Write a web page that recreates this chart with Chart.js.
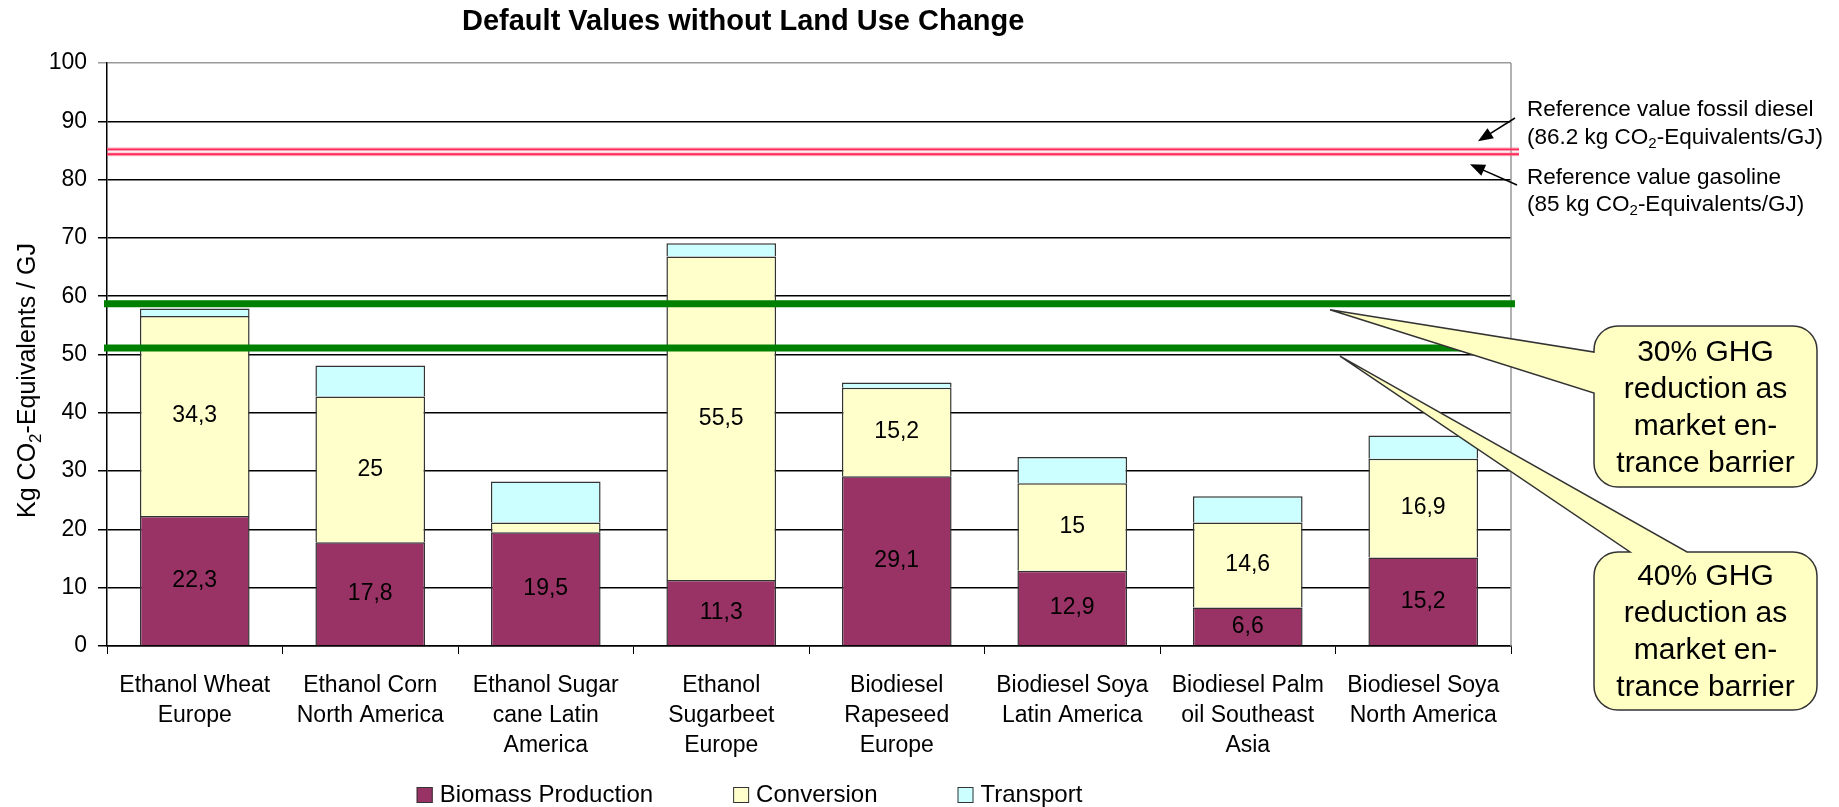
<!DOCTYPE html>
<html>
<head>
<meta charset="utf-8">
<title>Default Values without Land Use Change</title>
<script src="https://cdn.jsdelivr.net/npm/chart.js@4.4.1/dist/chart.umd.min.js"></script>
<style>
  html, body { margin: 0; padding: 0; background: #fff; }
  #wrap { width: 1839px; height: 807px; }
</style>
</head>
<body>
<div id="wrap"><canvas id="chart" width="1839" height="807"></canvas></div>
<script>
// values
const categories = [
  ['Ethanol Wheat', 'Europe'],
  ['Ethanol Corn', 'North America'],
  ['Ethanol Sugar', 'cane Latin', 'America'],
  ['Ethanol', 'Sugarbeet', 'Europe'],
  ['Biodiesel', 'Rapeseed', 'Europe'],
  ['Biodiesel Soya', 'Latin America'],
  ['Biodiesel Palm', 'oil Southeast', 'Asia'],
  ['Biodiesel Soya', 'North America']
];
const seriesNames = ['Biomass Production', 'Conversion', 'Transport'];
const seriesColors = ['#993366', '#ffffcc', '#ccffff'];
const biomass = [22.3, 17.8, 19.5, 11.3, 29.1, 12.9, 6.6, 15.2];
const conversion = [34.3, 25, 1.7, 55.5, 15.2, 15, 14.6, 16.9];
const transport = [1.3, 5.3, 7.0, 2.3, 0.9, 4.5, 4.5, 4.0];
const yMin = 0, yMax = 100, yStep = 10;

// reference lines (as drawn)
const fossilLines = [85.2, 84.35];          // diesel, gasoline
const barrierLines = [58.7, 51.1];          // 30 %, 40 % reduction
const fossilText = [
  ['Reference value fossil diesel'],
  ['(86.2 kg CO', '2', '-Equivalents/GJ)'],
  ['Reference value gasoline'],
  ['(85 kg CO', '2', '-Equivalents/GJ)']
];
const yTitle = ['Kg CO', '2', '-Equivalents / GJ'];
const calloutText = ['30% GHG', 'reduction as', 'market en-', 'trance barrier'];
const calloutText2 = ['40% GHG', 'reduction as', 'market en-', 'trance barrier'];

const FONT = "'Liberation Sans', Arial, sans-serif";

function line(ctx, x1, y1, x2, y2) {
  ctx.beginPath(); ctx.moveTo(x1, y1); ctx.lineTo(x2, y2); ctx.stroke();
}

function arrow(ctx, x1, y1, x2, y2) {
  const ang = Math.atan2(y2 - y1, x2 - x1), L = 15, W = 6;
  const c = Math.cos(ang), s = Math.sin(ang);
  line(ctx, x1, y1, x2 - L * 0.8 * c, y2 - L * 0.8 * s);
  ctx.beginPath();
  ctx.moveTo(x2, y2);
  ctx.lineTo(x2 - L * c + W * s, y2 - L * s - W * c);
  ctx.lineTo(x2 - L * c - W * s, y2 - L * s + W * c);
  ctx.closePath();
  ctx.fill();
}

// text with a subscript in the middle part
function subText(ctx, parts, x, y, size, subSize, drop) {
  let w = 0;
  parts.forEach((p, i) => {
    const sub = i === 1;
    ctx.font = (sub ? subSize : size) + 'px ' + FONT;
    ctx.fillText(p, x + w, sub ? y + drop : y);
    w += ctx.measureText(p).width;
  });
  return w;
}

function measureSub(ctx, parts, size, subSize) {
  let w = 0;
  parts.forEach((p, i) => {
    ctx.font = (i === 1 ? subSize : size) + 'px ' + FONT;
    w += ctx.measureText(p).width;
  });
  return w;
}

// rounded box with a wedge, either on the left side or on the top side
function callout(ctx, bx, by, bw, bh, r, side, b1, b2, tip) {
  ctx.beginPath();
  ctx.moveTo(bx + r, by);
  if (side === 'top') {
    ctx.lineTo(b1, by); ctx.lineTo(tip.x, tip.y); ctx.lineTo(b2, by);
  }
  ctx.lineTo(bx + bw - r, by);
  ctx.arcTo(bx + bw, by, bx + bw, by + r, r);
  ctx.lineTo(bx + bw, by + bh - r);
  ctx.arcTo(bx + bw, by + bh, bx + bw - r, by + bh, r);
  ctx.lineTo(bx + r, by + bh);
  ctx.arcTo(bx, by + bh, bx, by + bh - r, r);
  if (side === 'left') {
    ctx.lineTo(bx, b2); ctx.lineTo(tip.x, tip.y); ctx.lineTo(bx, b1);
  }
  ctx.lineTo(bx, by + r);
  ctx.arcTo(bx, by, bx + r, by, r);
  ctx.closePath();
  ctx.fillStyle = '#ffffc4';
  ctx.fill();
  ctx.strokeStyle = '#333';
  ctx.lineWidth = 1.5;
  ctx.stroke();
}

const overlay = {
  id: 'overlay',
  afterDatasetsDraw(chart) {
    const { ctx, chartArea: a, scales: { y } } = chart;
    ctx.save();
    // right border of plot
    ctx.strokeStyle = '#999'; ctx.lineWidth = 1.5;
    line(ctx, a.right, a.top, a.right, a.bottom);

    // segment labels
    ctx.font = '23px ' + FONT;
    ctx.fillStyle = '#000';
    ctx.textAlign = 'center';
    ctx.textBaseline = 'middle';
    [0, 1].forEach(di => {
      chart.getDatasetMeta(di).data.forEach((bar, i) => {
        const v = chart.data.datasets[di].data[i];
        if (v < 3) return;
        const p = bar.getCenterPoint();
        ctx.fillText(String(v).replace('.', ','), p.x, p.y);
      });
    });

    // fossil reference lines
    fossilLines.forEach(v => {
      const py = y.getPixelForValue(v);
      ctx.strokeStyle = 'rgba(255,120,150,0.45)'; ctx.lineWidth = 4;
      line(ctx, a.left, py, a.right + 8, py);
      ctx.strokeStyle = '#ff2a55'; ctx.lineWidth = 1.8;
      line(ctx, a.left, py, a.right + 8, py);
    });
    // market barrier lines
    barrierLines.forEach(v => {
      const py = y.getPixelForValue(v);
      ctx.strokeStyle = '#008000'; ctx.lineWidth = 7;
      line(ctx, a.left - 3, py, a.right + 4, py);
    });
    ctx.restore();
  },
  afterDraw(chart) {
    const { ctx, chartArea: a, scales: { y } } = chart;
    ctx.save();
    ctx.fillStyle = '#000';
    ctx.strokeStyle = '#000';

    // title
    ctx.font = 'bold 29px ' + FONT;
    ctx.textAlign = 'left';
    ctx.textBaseline = 'middle';
    ctx.fillText('Default Values without Land Use Change', a.left + 355, 22);

    // y axis title, rotated
    ctx.save();
    ctx.translate(35, (a.top + a.bottom) / 2 + 26);
    ctx.rotate(-Math.PI / 2);
    ctx.textBaseline = 'alphabetic';
    const tw = measureSub(ctx, yTitle, 25, 17);
    subText(ctx, yTitle, -tw / 2, 0, 25, 17, 6);
    ctx.restore();

    // legend
    ctx.font = '24px ' + FONT;
    ctx.textAlign = 'left';
    ctx.textBaseline = 'middle';
    const widths = seriesNames.map(n => 17 + 6 + ctx.measureText(n).width);
    const total = widths.reduce((s, w) => s + w, 0) + 80 * (widths.length - 1);
    let lx = a.right / 2 - total / 2 - 6;
    const ly = 795;
    seriesNames.forEach((n, i) => {
      ctx.fillStyle = seriesColors[i];
      ctx.fillRect(lx, ly - 8, 16, 16);
      ctx.strokeStyle = '#333'; ctx.lineWidth = 1;
      ctx.strokeRect(lx + 0.5, ly - 7.5, 15, 15);
      ctx.fillStyle = '#000';
      ctx.font = '24px ' + FONT;
      ctx.fillText(n, lx + 23, ly);
      lx += widths[i] + 80;
    });

    // fossil reference notes and arrows
    const tx = a.right + 16;
    const rows = [a.top + 47, a.top + 75, a.top + 115, a.top + 142];
    fossilText.forEach((parts, i) => subText(ctx, parts, tx, rows[i], 22.5, 15, 6));
    const yd = y.getPixelForValue(fossilLines[0]);
    const yg = y.getPixelForValue(fossilLines[1]);
    ctx.fillStyle = '#000';
    ctx.strokeStyle = '#000';
    ctx.lineWidth = 1.5;
    arrow(ctx, a.right + 4, a.top + 55, a.right - 33, yd - 8);
    arrow(ctx, a.right + 6, a.top + 122, a.right - 41, yg + 10);

    // callouts
    const bx = a.right + 83, bw = 223;
    const t1 = { x: a.right - 181, y: y.getPixelForValue(barrierLines[0]) + 6 };
    const t2 = { x: a.right - 171, y: y.getPixelForValue(barrierLines[1]) + 8 };
    callout(ctx, bx, 326, bw, 161, 24, 'left', 352, 393, t1);
    callout(ctx, bx, 552, bw, 158, 24, 'top', bx + 36, bx + 93, t2);
    ctx.fillStyle = '#000';
    ctx.font = '30px ' + FONT;
    ctx.textAlign = 'center';
    calloutText.forEach((s, i) => ctx.fillText(s, bx + bw / 2, 353 + i * 37));
    calloutText2.forEach((s, i) => ctx.fillText(s, bx + bw / 2, 577 + i * 37));
    ctx.restore();
  }
};

const barStyle = { borderColor: '#333', borderWidth: 1.5, barPercentage: 0.625, categoryPercentage: 1 };

new Chart(document.getElementById('chart'), {
  type: 'bar',
  data: {
    labels: categories,
    datasets: [
      { label: seriesNames[0], data: biomass, backgroundColor: seriesColors[0], ...barStyle },
      { label: seriesNames[1], data: conversion, backgroundColor: seriesColors[1], ...barStyle },
      { label: seriesNames[2], data: transport, backgroundColor: seriesColors[2], ...barStyle }
    ]
  },
  options: {
    responsive: false,
    animation: false,
    layout: { padding: { top: 63, right: 328, left: 0, bottom: 0 } },
    plugins: {
      legend: { display: false },
      title: { display: false },
      tooltip: { enabled: false }
    },
    scales: {
      x: {
        stacked: true,
        grid: { drawOnChartArea: false, drawTicks: true, tickLength: 8, color: '#000', offset: true },
        border: { color: '#000', width: 1.5 },
        ticks: { color: '#000', font: { family: FONT, size: 23, lineHeight: 1.3 }, padding: 17, maxRotation: 0, autoSkip: false },
        afterFit: s => { s.height = 161; }
      },
      y: {
        stacked: true,
        min: yMin, max: yMax,
        grid: {
          color: c => (c.tick && c.tick.value === yMax ? '#999' : '#000'),
          lineWidth: 1.5, tickLength: 9, drawTicks: true
        },
        border: { color: '#000', width: 1.5 },
        ticks: { stepSize: yStep, color: '#000', font: { family: FONT, size: 23 }, padding: 11 },
        afterFit: s => { s.width = 107; }
      }
    }
  },
  plugins: [overlay]
});
</script>
</body>
</html>
